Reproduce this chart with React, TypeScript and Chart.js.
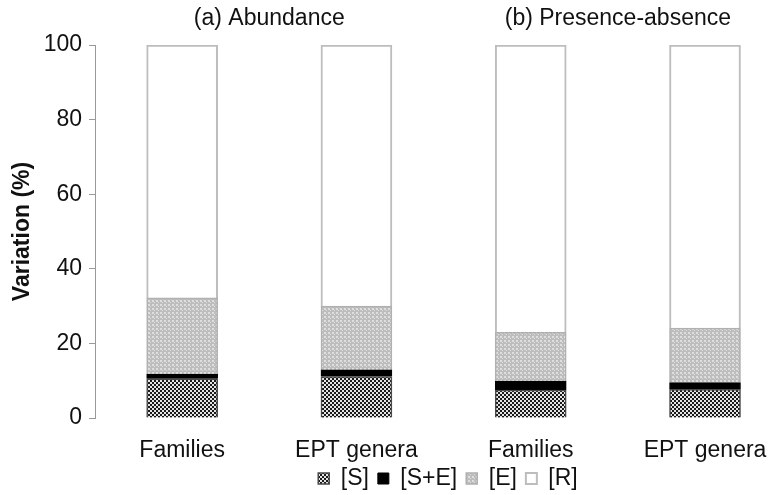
import React, { useEffect, useRef } from "react";
import { Chart, registerables } from "chart.js";

Chart.register(...registerables);

const categories = ["Families", "EPT genera", "Families", "EPT genera"];
const panelTitles = ["(a) Abundance", "(b) Presence-absence"];
const seriesS = [10.5, 11.1, 7.5, 7.7];
const seriesSE = [1.3, 1.8, 2.4, 1.8];
const seriesE = [20.4, 17.1, 13.1, 14.6];
const seriesR = [67.8, 70.0, 77.0, 75.9];
const yTicks = [0, 20, 40, 60, 80, 100];

const FONT = "'Liberation Sans', Arial, sans-serif";

function makePattern(bg: string, fg: string, size: number, cells: [number, number, number, number][]) {
  const c = document.createElement("canvas");
  c.width = size;
  c.height = size;
  const g = c.getContext("2d")!;
  g.fillStyle = bg;
  g.fillRect(0, 0, size, size);
  g.fillStyle = fg;
  cells.forEach(([x, y, w, h]) => g.fillRect(x, y, w, h));
  const ctx = document.createElement("canvas").getContext("2d")!;
  return ctx.createPattern(c, "repeat")!;
}

export default function App() {
  const ref = useRef<HTMLCanvasElement>(null);

  useEffect(() => {
    const canvas = ref.current!;
    const patS = makePattern("#1a1a1a", "#e4e4e4", 4, [
      [0, 0, 2, 2],
      [2, 2, 2, 2],
    ]);
    const patE = makePattern("#bdbdbd", "#dedede", 4, [
      [0, 0, 2, 2],
      [2, 2, 1, 1],
    ]);

    const toXY = (arr: number[]) => arr.map((v, i) => ({ x: i, y: v }));

    const titlesPlugin = {
      id: "panelTitles",
      afterLayout(chart: any) {
        const lg = chart.legend;
        if (lg) {
          lg.left += 10;
          lg.right += 10;
          lg.top -= 4;
          lg.bottom -= 4;
        }
      },
      afterDraw(chart: any) {
        const ctx = chart.ctx;
        const xs = chart.scales.x;
        ctx.save();
        ctx.fillStyle = "#111";
        ctx.font = `23px ${FONT}`;
        ctx.textAlign = "center";
        ctx.textBaseline = "middle";
        ctx.fillText(panelTitles[0], xs.getPixelForValue(0.5), 19);
        ctx.fillText(panelTitles[1], xs.getPixelForValue(2.5), 19);
        ctx.translate(23, (chart.chartArea.top + chart.chartArea.bottom) / 2);
        ctx.rotate(-Math.PI / 2);
        ctx.font = `bold 23px ${FONT}`;
        ctx.fillText("Variation (%)", 0, 0);
        ctx.restore();
      },
    };

    const chart = new Chart(canvas, {
      type: "bar",
      data: {
        datasets: [
          { label: "[S]", data: toXY(seriesS) as any, backgroundColor: patS, borderColor: "#4a4a4a", borderWidth: 1.5 },
          { label: "[S+E]", data: toXY(seriesSE) as any, backgroundColor: "#000", borderColor: "#000", borderWidth: 1 },
          { label: "[E]", data: toXY(seriesE) as any, backgroundColor: patE, borderColor: "#b0b0b0", borderWidth: 1.5 },
          { label: "[R]", data: toXY(seriesR) as any, backgroundColor: "#fff", borderColor: "#bdbdbd", borderWidth: 2 },
        ],
      },
      options: {
        responsive: false,
        animation: false,
        devicePixelRatio: 1,
        barThickness: 71,
        layout: { padding: { top: 45, right: 0, bottom: -9, left: 0 } },
        plugins: {
          tooltip: { enabled: false },
          legend: {
            position: "bottom",
            fullSize: false,
            labels: {
              boxWidth: 11,
              boxHeight: 11,
              padding: 9,
              color: "#111",
              font: { family: FONT, size: 23 },
            },
          },
        },
        scales: {
          x: {
            type: "linear",
            stacked: true,
            offset: false,
            min: -0.5,
            max: 3.436,
            grid: { display: false },
            border: { display: false },
            afterBuildTicks: (scale: any) => {
              scale.ticks = categories.map((_, i) => ({ value: i }));
            },
            afterFit: (scale: any) => {
              scale.height = 44;
            },
            ticks: {
              padding: 11,
              maxRotation: 0,
              autoSkip: false,
              color: "#111",
              font: { family: FONT, size: 23 },
              callback: (v: any) => categories[Math.round(Number(v))] ?? "",
            },
          },
          y: {
            stacked: true,
            min: 0,
            max: 100,
            afterFit: (scale: any) => {
              scale.width = 95;
            },
            afterBuildTicks: (scale: any) => {
              scale.ticks = yTicks.map((v) => ({ value: v }));
            },
            grid: { drawOnChartArea: false, color: "#9a9a9a", tickLength: 6 },
            border: { color: "#9a9a9a", width: 1 },
            ticks: {
              padding: 7,
              color: "#111",
              font: { family: FONT, size: 23 },
            },
          },
        },
      } as any,
      plugins: [titlesPlugin],
    });
    return () => chart.destroy();
  }, []);

  return (
    <div style={{ position: "absolute", left: 0, top: 0, width: 781, height: 495, background: "#fff" }}>
      <canvas ref={ref} width={781} height={495} style={{ display: "block" }} />
    </div>
  );
}
